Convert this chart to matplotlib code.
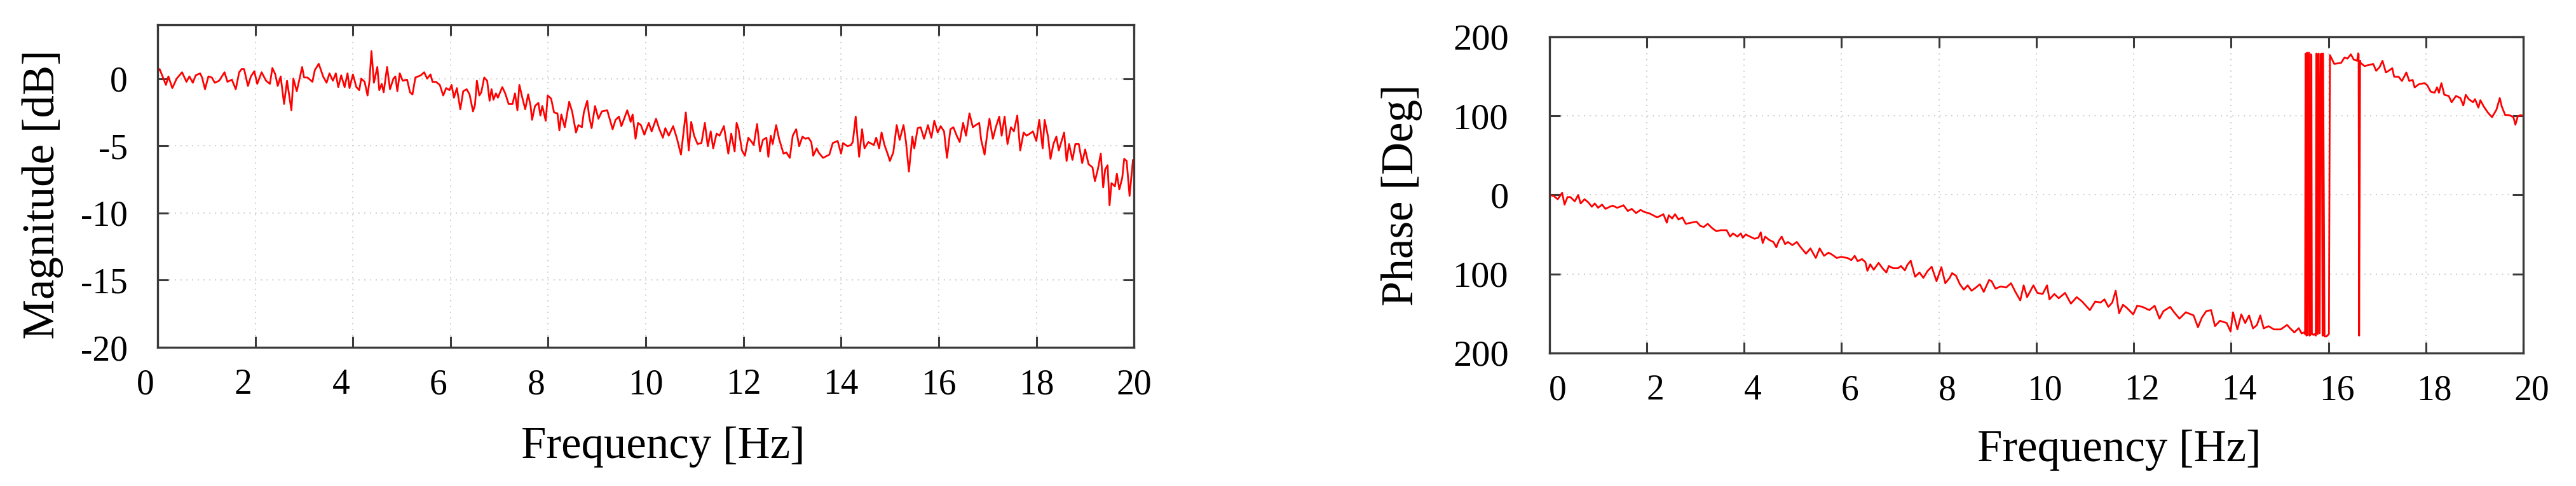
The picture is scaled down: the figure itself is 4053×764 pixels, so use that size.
import matplotlib
matplotlib.use("Agg")
import matplotlib.pyplot as plt
import matplotlib.transforms as mtransforms

plt.rcParams['font.family'] = ['Liberation Serif', 'DejaVu Serif']
plt.rcParams['axes.unicode_minus'] = False

# Magnitude response [Hz, dB]
mag_freq = [0.00, 0.04, 0.17, 0.22, 0.30, 0.39, 0.50, 0.59, 0.65, 0.72, 0.78, 0.87, 0.91, 0.97,
            1.04, 1.11, 1.17, 1.26, 1.37, 1.43, 1.52, 1.60, 1.67, 1.72, 1.77, 1.85, 1.91, 1.98,
            2.04, 2.13, 2.22, 2.30, 2.35, 2.41, 2.46, 2.52, 2.59, 2.65, 2.74, 2.78, 2.85, 2.96,
            3.00, 3.07, 3.17, 3.22, 3.30, 3.39, 3.46, 3.52, 3.59, 3.65, 3.70, 3.76, 3.83, 3.89,
            3.93, 4.00, 4.07, 4.13, 4.17, 4.24, 4.30, 4.34, 4.38, 4.43, 4.50, 4.54, 4.59, 4.63,
            4.70, 4.76, 4.83, 4.87, 4.91, 4.96, 5.02, 5.11, 5.17, 5.22, 5.28, 5.39, 5.46, 5.52,
            5.59, 5.63, 5.70, 5.78, 5.85, 5.91, 5.98, 6.02, 6.07, 6.13, 6.20, 6.26, 6.33, 6.39,
            6.46, 6.50, 6.54, 6.59, 6.63, 6.69, 6.75, 6.80, 6.84, 6.88, 6.93, 6.97, 7.06, 7.12,
            7.19, 7.27, 7.32, 7.37, 7.41, 7.47, 7.53, 7.59, 7.64, 7.67, 7.73, 7.80, 7.84, 7.88,
            7.95, 7.99, 8.06, 8.12, 8.19, 8.23, 8.27, 8.34, 8.43, 8.49, 8.57, 8.62, 8.69, 8.73,
            8.80, 8.84, 8.89, 8.96, 9.03, 9.10, 9.21, 9.32, 9.38, 9.45, 9.50, 9.62, 9.69, 9.73,
            9.79, 9.84, 9.90, 9.97, 10.06, 10.12, 10.21, 10.27, 10.35, 10.40, 10.47, 10.56, 10.64,
            10.72, 10.82, 10.88, 10.93, 10.99, 11.06, 11.14, 11.21, 11.27, 11.33, 11.38, 11.45,
            11.51, 11.60, 11.69, 11.75, 11.82, 11.86, 11.90, 11.97, 12.03, 12.10, 12.17, 12.21,
            12.28, 12.34, 12.40, 12.47, 12.51, 12.56, 12.60, 12.67, 12.73, 12.82, 12.88, 12.95,
            13.01, 13.08, 13.14, 13.21, 13.27, 13.33, 13.39, 13.43, 13.50, 13.54, 13.63, 13.76,
            13.83, 13.93, 14.00, 14.04, 14.13, 14.20, 14.24, 14.30, 14.37, 14.43, 14.48, 14.56,
            14.67, 14.72, 14.78, 14.83, 14.89, 14.96, 15.00, 15.07, 15.14, 15.20, 15.28, 15.33,
            15.39, 15.46, 15.50, 15.57, 15.63, 15.70, 15.78, 15.85, 15.91, 15.98, 16.04, 16.11,
            16.17, 16.24, 16.30, 16.37, 16.43, 16.50, 16.56, 16.63, 16.70, 16.76, 16.83, 16.87,
            16.94, 17.00, 17.04, 17.11, 17.17, 17.24, 17.29, 17.35, 17.41, 17.48, 17.54, 17.61,
            17.67, 17.74, 17.80, 17.87, 17.93, 18.00, 18.06, 18.13, 18.17, 18.24, 18.29, 18.35,
            18.41, 18.46, 18.57, 18.62, 18.67, 18.74, 18.80, 18.87, 18.94, 19.00, 19.07, 19.15,
            19.20, 19.26, 19.32, 19.37, 19.41, 19.46, 19.50, 19.54, 19.61, 19.65, 19.70, 19.76,
            19.80, 19.85, 19.91, 19.98, 20.00]
mag_db = [0.55, 0.71, -0.47, 0.16, -0.71, 0.00, 0.47, -0.24, 0.16, -0.31, 0.24, 0.39, 0.08, -0.79,
          0.16, 0.08, -0.31, -0.16, 0.47, -0.24, -0.08, -0.79, 0.47, 0.71, 0.71, -0.55, 0.16, 0.55,
          -0.39, 0.47, -0.16, -0.39, 0.79, 0.31, -0.55, 0.16, -1.89, -0.16, -2.36, 0.00, -0.94, 0.86,
          0.08, 0.08, -0.24, 0.63, 1.10, 0.16, -0.31, 0.39, -0.16, 0.39, -0.63, 0.24, -0.63, 0.39,
          -0.71, 0.31, -0.63, -0.86, 0.00, -0.24, -1.26, -0.16, 2.04, -0.31, 0.86, -0.86, -0.39, -1.02,
          0.86, -0.79, 0.00, 0.16, -0.94, 0.39, -0.16, -0.08, -1.02, -1.18, 0.08, 0.24, 0.47, 0.00,
          0.31, -0.24, -0.24, -0.47, -1.26, -0.71, -0.86, -0.47, -1.42, -0.71, -2.28, -0.94, -0.79, -1.18,
          -2.44, -1.97, -0.16, -1.26, -1.02, 0.08, -0.16, -1.65, -0.79, -1.57, -1.10, -1.42, -0.63, -1.10,
          -1.89, -1.89, -1.10, -2.36, -0.47, -1.42, -2.28, -1.18, -2.04, -3.07, -2.04, -1.81, -2.75, -2.04,
          -3.14, -1.26, -1.49, -2.52, -2.59, -3.85, -2.67, -3.62, -1.73, -2.44, -4.01, -3.46, -3.62, -2.52,
          -1.65, -2.83, -3.69, -2.04, -2.99, -2.44, -2.36, -3.77, -3.07, -2.83, -3.54, -2.36, -3.22, -2.67,
          -4.48, -3.30, -3.46, -4.17, -3.30, -3.93, -2.99, -3.69, -4.40, -3.69, -4.25, -3.54, -4.48,
          -5.66, -2.52, -5.35, -3.22, -4.25, -4.87, -4.80, -3.30, -5.03, -3.93, -5.19, -4.09,
          -4.25, -3.54, -5.58, -4.09, -5.42, -3.30, -3.77, -5.35, -5.74, -4.40, -4.72, -4.95,
          -3.38, -5.42, -4.56, -4.40, -5.82, -4.25, -4.87, -3.46, -4.48, -5.58, -5.50, -5.90,
          -4.25, -3.77, -5.03, -4.32, -4.48, -4.40, -4.72, -5.74, -5.19, -5.50, -5.90, -5.66,
          -4.80, -4.64, -5.58, -4.80, -5.03, -4.95, -4.72, -2.83, -5.82, -3.77, -5.19, -4.72,
          -4.95, -4.40, -5.19, -4.01, -4.95, -5.66, -6.13, -5.50, -3.46, -4.56, -3.46, -4.72,
          -6.92, -4.32, -5.19, -3.69, -3.62, -4.48, -3.46, -4.40, -3.14, -4.01, -3.54, -3.93,
          -5.90, -3.77, -3.62, -4.25, -4.72, -3.30, -4.25, -2.59, -3.62, -3.46, -3.30, -4.56,
          -5.66, -3.93, -2.99, -4.48, -3.62, -2.83, -4.25, -2.83, -4.87, -3.62, -3.93, -2.75,
          -5.35, -4.01, -4.25, -4.09, -3.93, -4.64, -3.07, -5.19, -3.07, -4.32, -5.97, -4.87,
          -4.32, -5.35, -4.01, -6.13, -4.87, -6.05, -4.87, -4.87, -6.29, -5.27, -6.37, -6.60,
          -7.63, -6.76, -5.58, -8.10, -6.76, -6.45, -9.43, -7.78, -8.02, -7.08, -8.25, -7.39,
          -5.97, -6.13, -8.73, -6.05, -6.29]

# Phase response [Hz, deg]
phase_freq = [0.00, 0.09, 0.17, 0.26, 0.31, 0.37, 0.43, 0.52, 0.59, 0.64, 0.72, 0.80, 0.87, 0.93,
              1.00, 1.08, 1.15, 1.24, 1.30, 1.39, 1.45, 1.52, 1.61, 1.69, 1.78, 1.87, 1.95, 2.04,
              2.13, 2.21, 2.30, 2.34, 2.41, 2.45, 2.52, 2.58, 2.65, 2.73, 2.80, 2.91, 3.02, 3.10,
              3.17, 3.25, 3.34, 3.43, 3.51, 3.64, 3.71, 3.77, 3.86, 3.93, 3.97, 4.03, 4.12, 4.21,
              4.29, 4.34, 4.38, 4.43, 4.51, 4.60, 4.66, 4.71, 4.77, 4.84, 4.90, 4.99, 5.08, 5.16,
              5.27, 5.36, 5.47, 5.55, 5.64, 5.73, 5.81, 5.90, 5.99, 6.12, 6.20, 6.27, 6.33, 6.42,
              6.49, 6.53, 6.59, 6.66, 6.76, 6.84, 6.92, 6.97, 7.06, 7.16, 7.22, 7.30, 7.35, 7.42,
              7.51, 7.60, 7.68, 7.76, 7.85, 7.95, 8.05, 8.13, 8.22, 8.27, 8.35, 8.43, 8.51, 8.59,
              8.67, 8.76, 8.84, 8.92, 9.03, 9.08, 9.16, 9.27, 9.38, 9.48, 9.57, 9.67, 9.74, 9.81,
              9.94, 10.02, 10.13, 10.22, 10.27, 10.37, 10.46, 10.59, 10.71, 10.83, 10.94, 11.10,
              11.21, 11.32, 11.40, 11.48, 11.56, 11.63, 11.70, 11.78, 11.86, 11.99, 12.07, 12.18,
              12.32, 12.43, 12.53, 12.61, 12.75, 12.83, 12.94, 13.07, 13.23, 13.32, 13.40, 13.49,
              13.59, 13.67, 13.77, 13.91, 13.99, 14.04, 14.13, 14.21, 14.29, 14.37, 14.45, 14.53,
              14.60, 14.67, 14.77, 14.88, 15.02, 15.15, 15.21, 15.30, 15.39, 15.45, 15.50,
              15.52, 15.53, 15.55, 15.56, 15.57, 15.59, 15.60, 15.61, 15.63, 15.64, 15.65, 15.66,
              15.69, 15.71, 15.74, 15.75, 15.77, 15.78, 15.80, 15.82, 15.84, 15.86, 15.88, 15.89,
              15.92, 15.96, 15.99, 16.01, 16.03, 16.12, 16.26, 16.33, 16.39, 16.46, 16.52, 16.59,
              16.61, 16.62, 16.63, 16.65, 16.66, 16.74, 16.83, 16.92, 16.98, 17.05, 17.11, 17.18,
              17.25, 17.31, 17.35, 17.44, 17.51, 17.60, 17.66, 17.73, 17.77, 17.86, 17.97, 18.03,
              18.10, 18.18, 18.23, 18.27, 18.32, 18.38, 18.47, 18.53, 18.62, 18.71, 18.77, 18.82,
              18.88, 18.97, 19.01, 19.08, 19.12, 19.19, 19.28, 19.36, 19.45, 19.52, 19.56, 19.63,
              19.71, 19.80, 19.84, 19.89, 19.95, 20.00]
phase_deg = [0.0, -1.4, -5.4, 2.7, -12.2, -2.7, -2.7, -8.1, 0.0, -10.8, -5.4, -9.5, -14.9, -10.8,
             -16.2, -12.2, -17.6, -14.9, -13.5, -16.2, -14.9, -13.0, -20.3, -17.6, -23.0, -18.9, -21.6, -23.0,
             -25.7, -28.4, -25.7, -24.3, -35.1, -25.7, -29.7, -24.3, -31.1, -28.4, -36.5, -35.1, -33.8, -39.2,
             -40.5, -36.5, -41.9, -45.9, -44.6, -44.6, -52.7, -48.6, -52.7, -48.6, -54.1, -50.0, -52.7, -55.4,
             -54.1, -47.3, -60.8, -52.7, -56.8, -59.5, -66.2, -58.1, -52.7, -62.2, -59.5, -63.5, -59.5, -66.2,
             -74.3, -67.6, -79.7, -67.6, -77.0, -73.0, -75.7, -79.7, -78.4, -79.7, -82.4, -77.0, -83.8, -81.1,
             -85.1, -95.9, -87.8, -94.6, -85.9, -92.7, -98.1, -89.9, -92.7, -92.7, -89.9, -95.4, -88.6, -83.2,
             -103.5, -98.1, -104.9, -96.7, -90.8, -109.0, -91.3, -111.7, -104.9, -98.9, -102.2, -113.0, -119.8, -114.4,
             -121.2, -117.1, -113.0, -122.6, -107.6, -109.0, -118.5, -115.8, -117.1, -111.7, -122.6, -133.4, -114.4, -129.3,
             -114.4, -123.9, -125.3, -114.4, -132.1, -125.3, -130.7, -123.9, -137.5, -129.3, -134.8, -145.7,
             -134.8, -136.1, -132.1, -141.6, -136.1, -121.2, -149.7, -138.9, -142.9, -151.1, -140.2, -141.6,
             -145.7, -140.2, -156.5, -147.0, -141.6, -148.4, -156.5, -148.4, -152.4, -167.4, -155.2, -147.0,
             -145.7, -166.0, -159.2, -162.0, -172.8, -148.4, -170.1, -151.1, -162.0, -152.4, -168.8, -164.7,
             -152.4, -168.8, -166.0, -170.1, -170.1, -164.4, -168.5, -173.9, -168.5, -175.2, -173.9,
             -176, 179, -178, 180, -177, 178, 180, -178, -177, 178, 176, -176,
             -177, -176, -178, 179, 178, -176, 179, -175, 178, 179, -178, 179,
             -179, -179, -177, -176, 177, 165.8, 167.1, 173.9, 172.5, 177.9, 171.2, 169.8,
             179.2, 178, -178, 170, 167.1, 163.1, 164.4, 165.8, 157.1, 161.7, 169.8, 155.0,
             157.7, 160.4, 149.6, 149.6, 144.2, 155.0, 144.2, 145.6, 136.1, 140.2, 141.5, 138.8,
             130.7, 129.4, 136.1, 129.4, 141.5, 126.7, 125.3, 117.3, 125.3, 122.6, 113.2, 126.7,
             121.3, 117.3, 121.3, 110.5, 119.9, 111.9, 103.8, 98.4, 107.8, 122.6, 111.9, 101.1,
             101.1, 98.4, 88.9, 99.7, 101.1, 99.7]

freq_ticks = list(range(0, 21, 2))
mag_ticks = [0, -5, -10, -15, -20]
mag_tick_labels = ["0", "-5", "-10", "-15", "-20"]
phase_ticks = [200, 100, 0, -100, -200]
phase_tick_labels = ["200", "100", "0", "100", "200"]

fig = plt.figure(figsize=(40.53, 7.64), dpi=100)
ax1 = fig.add_axes([0.0612, 0.2853, 0.3790, 0.6636])
ax2 = fig.add_axes([0.6015, 0.2736, 0.3780, 0.6505])


def style_axes(ax, ytick_size, ypad):
    for s in ax.spines.values():
        s.set_linewidth(2.4)
        s.set_color('#3a3a3a')
    ax.tick_params(direction='in', top=True, right=True, length=12, width=2.2,
                   color='#3a3a3a', labelsize=40)
    ax.tick_params(axis='x', pad=24)
    ax.tick_params(axis='y', pad=ypad, labelsize=ytick_size)
    ax.grid(True, linestyle=(0, (1, 4)), color='#c8c8c8', linewidth=1.3)
    ax.set_axisbelow(True)


# Magnitude plot
ax1.plot(mag_freq, mag_db, color='#ff0000', linewidth=2.0)
ax1.set_xlim(0, 20)
ax1.set_ylim(-20, 4)
ax1.set_xticks(freq_ticks)
ax1.set_yticks(mag_ticks)
ax1.set_yticklabels(mag_tick_labels)
style_axes(ax1, 40, 34)
ax1.set_xlabel("Frequency [Hz]", fontsize=51, va='center')
ax1.set_ylabel("Magnitude [dB]", fontsize=51, va='center')
ax1.xaxis.set_label_coords(0.518, -0.308)
ax1.yaxis.set_label_coords(-0.118, 0.475)
# single digit labels sit a bit left of their ticks in the original
for lab, t in zip(ax1.get_xticklabels(), freq_ticks):
    if t < 10:
        lab.set_transform(lab.get_transform() + mtransforms.ScaledTranslation(-0.19, 0, fig.dpi_scale_trans))

# Phase plot
ax2.plot(phase_freq, phase_deg, color='#ff0000', linewidth=2.0)
ax2.set_xlim(0, 20)
ax2.set_ylim(-200, 200)
ax2.set_xticks(freq_ticks)
ax2.set_yticks(phase_ticks)
ax2.set_yticklabels(phase_tick_labels)
style_axes(ax2, 42, 46)
ax2.set_xlabel("Frequency [Hz]", fontsize=51, va='center')
ax2.set_ylabel("Phase [Deg]", fontsize=51, va='center')
ax2.xaxis.set_label_coords(0.585, -0.306)
ax2.yaxis.set_label_coords(-0.152, 0.50)
for lab in ax2.get_xticklabels():
    lab.set_transform(lab.get_transform() + mtransforms.ScaledTranslation(0.13, 0, fig.dpi_scale_trans))

fig.savefig("out.png", dpi=100)
